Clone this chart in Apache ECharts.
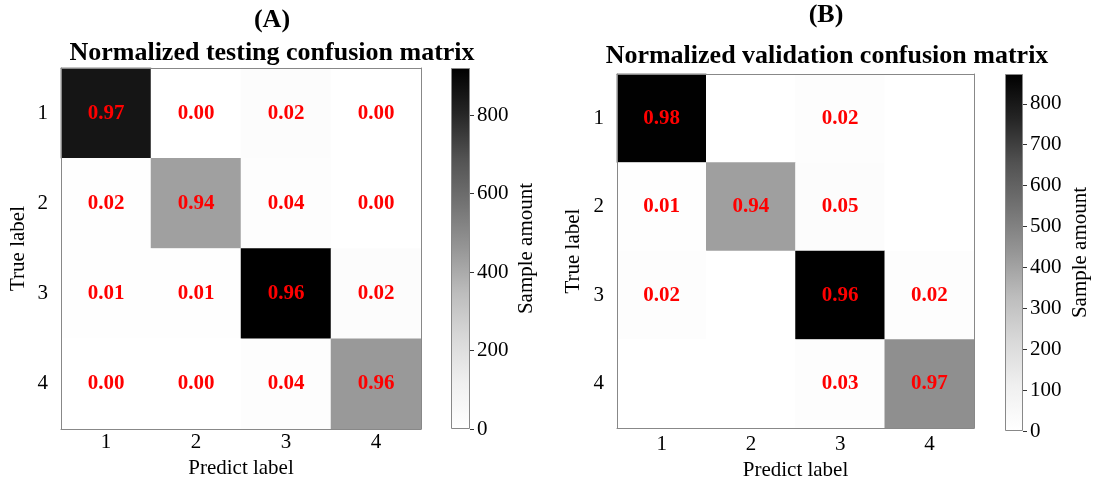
<!DOCTYPE html>
<html>
<head>
<meta charset="utf-8">
<script src="https://cdn.jsdelivr.net/npm/echarts@6/dist/echarts.min.js"></script>
<style>
  html, body { margin: 0; padding: 0; background: #fff; }
  #chart { width: 1095px; height: 486px; }
</style>
</head>
<body>
<div id="chart"></div>
<script>
// Class names shared by both confusion matrices (rows = true, columns = predicted)
const classLabels = ['1', '2', '3', '4'];

// Sample counts per cell; the printed values are each count over its row total
const testingCounts = [
  [855, 3, 20, 3],
  [9, 430, 18, 1],
  [9, 8, 920, 20],
  [0, 1, 19, 452]
];
const validationCounts = [
  [870, 0, 18, 0],
  [5, 412, 22, 0],
  [18, 0, 873, 18],
  [0, 0, 14, 458]
];

// Colour bar tick values
const testingTicks = [0, 200, 400, 600, 800];
const validationTicks = [0, 100, 200, 300, 400, 500, 600, 700, 800];

const FONT = '"Times New Roman", "Liberation Serif", serif';
// ColorBrewer "Greys" ramp, white -> black
const GREYS = ['#ffffff', '#f0f0f0', '#d9d9d9', '#bdbdbd', '#969696',
               '#737373', '#525252', '#252525', '#000000'];

const panels = [
  {
    counts: testingCounts, ticks: testingTicks, showZero: true,
    matrix: { left: 61, top: 68, width: 360, height: 361 },
    bar: { left: 451, top: 68, width: 19, height: 361 },
    xLabelMargin: 3, xNameGap: 26, yNameGap: 32, barNameGap: 46,
    tag: '(A)', title: 'Normalized testing confusion matrix',
    tagPos: [272, 20], titlePos: [272, 53]
  },
  {
    counts: validationCounts, ticks: validationTicks, showZero: false,
    matrix: { left: 617, top: 74, width: 357, height: 357 },
    bar: { left: 1005, top: 74, width: 18, height: 357 },
    xLabelMargin: 6, xNameGap: 31, yNameGap: 33, barNameGap: 47,
    tag: '(B)', title: 'Normalized validation confusion matrix',
    tagPos: [826, 15], titlePos: [827, 56]
  }
];

const option = {
  animation: false,
  backgroundColor: '#ffffff',
  grid: [], xAxis: [], yAxis: [], series: [], visualMap: [], graphic: []
};

const axisText = { fontFamily: FONT, fontSize: 21, color: '#000' };
const edge = { show: true, lineStyle: { color: '#888', width: 1 } };

panels.forEach((p) => {
  const g = option.grid.length;
  option.grid.push(Object.assign({}, p.matrix), Object.assign({}, p.bar));

  const vmax = Math.max(...p.counts.flat());
  const rowSums = p.counts.map(r => r.reduce((a, b) => a + b, 0));
  const xi = option.xAxis.length;
  const yi = option.yAxis.length;

  option.xAxis.push(
    {
      type: 'category', gridIndex: g, data: classLabels, position: 'bottom', z: 10,
      axisLine: edge, axisTick: { show: false }, splitLine: { show: false },
      axisLabel: Object.assign({ margin: p.xLabelMargin }, axisText),
      name: 'Predict label', nameLocation: 'middle', nameGap: p.xNameGap,
      nameTextStyle: axisText
    },
    {
      type: 'category', gridIndex: g, data: classLabels, position: 'top', z: 10,
      axisLine: edge, axisTick: { show: false }, axisLabel: { show: false }
    },
    { type: 'category', gridIndex: g + 1, data: [''], show: false }
  );

  option.yAxis.push(
    {
      type: 'category', gridIndex: g, data: classLabels, inverse: true, position: 'left', z: 10,
      axisLine: edge, axisTick: { show: false }, splitLine: { show: false },
      axisLabel: Object.assign({ margin: 13 }, axisText),
      name: 'True label', nameLocation: 'middle', nameGap: p.yNameGap, nameRotate: 90,
      nameTextStyle: axisText
    },
    {
      type: 'category', gridIndex: g, data: classLabels, inverse: true, position: 'right', z: 10,
      axisLine: edge, axisTick: { show: false }, axisLabel: { show: false }
    },
    {
      type: 'value', gridIndex: g + 1, min: 0, max: vmax, position: 'right',
      axisLine: { show: false }, splitLine: { show: false },
      axisTick: { show: true, length: 4, customValues: p.ticks, lineStyle: { color: '#333' } },
      axisLabel: Object.assign({ margin: 7, customValues: p.ticks }, axisText),
      name: 'Sample amount', nameLocation: 'middle', nameGap: p.barNameGap, nameRotate: 90,
      nameTextStyle: axisText
    }
  );

  const hi = option.series.length;
  option.series.push({
    type: 'heatmap', xAxisIndex: xi, yAxisIndex: yi,
    data: p.counts.flatMap((row, r) => row.map((v, c) => [c, r, v])),
    label: {
      show: true, fontFamily: FONT, fontWeight: 'bold', fontSize: 21, color: '#ff0000',
      formatter: (d) => {
        const r = d.value[1], v = d.value[2];
        if (!p.showZero && v === 0) return '';
        return (v / rowSums[r]).toFixed(2);
      }
    },
    emphasis: { disabled: true }
  });

  // Colour bar: one bar spanning the full count range, filled with the same ramp
  option.series.push({
    type: 'bar', xAxisIndex: xi + 2, yAxisIndex: yi + 2, data: [vmax],
    barWidth: '100%', silent: true,
    itemStyle: {
      borderColor: '#888', borderWidth: 1,
      color: new echarts.graphic.LinearGradient(0, 1, 0, 0,
        GREYS.map((c, i) => ({ offset: i / (GREYS.length - 1), color: c })))
    }
  });

  option.visualMap.push({
    type: 'continuous', show: false, min: 0, max: vmax,
    seriesIndex: hi, inRange: { color: GREYS }
  });

  option.graphic.push(
    {
      type: 'text', x: p.tagPos[0], y: p.tagPos[1], silent: true,
      style: { text: p.tag, fontFamily: FONT, fontWeight: 'bold', fontSize: 26,
               fill: '#000', align: 'center', verticalAlign: 'middle' }
    },
    {
      type: 'text', x: p.titlePos[0], y: p.titlePos[1], silent: true,
      style: { text: p.title, fontFamily: FONT, fontWeight: 'bold', fontSize: 26,
               fill: '#000', align: 'center', verticalAlign: 'middle' }
    }
  );
});

const chart = echarts.init(document.getElementById('chart'), null, { renderer: 'canvas' });
chart.setOption(option);
</script>
</body>
</html>
